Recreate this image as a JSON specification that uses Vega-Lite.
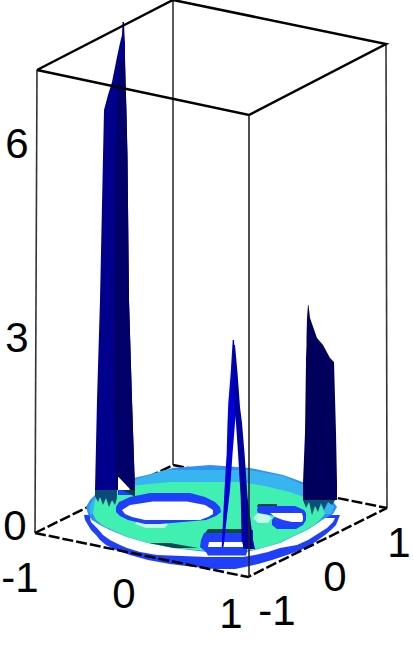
{
"$schema":"https://vega.github.io/schema/vega-lite/v6.json",
"width":414,"height":654,"padding":0,"autosize":{"type":"none"},
"background":"white",
"config":{"view":{"stroke":null}},
"resolve":{"scale":{"color":"independent"}},
"datasets":{
"back":[
{"edge":"a","seq":1,"h":37,"v":70},{"edge":"a","seq":2,"h":35,"v":533},
{"edge":"b","seq":1,"h":173,"v":0},{"edge":"b","seq":2,"h":173,"v":465},
{"edge":"c","seq":1,"h":386,"v":44},{"edge":"c","seq":2,"h":387,"v":508}
],
"floorEdges":[
{"edge":"d","seq":1,"h":35,"v":533},{"edge":"d","seq":2,"h":173,"v":465},{"edge":"d","seq":3,"h":387,"v":508}
],
"topEdges":[
{"edge":"t","seq":1,"h":37,"v":70},{"edge":"t","seq":2,"h":173,"v":0},{"edge":"t","seq":3,"h":386,"v":44},{"edge":"t","seq":4,"h":249,"v":115},{"edge":"t","seq":5,"h":37,"v":70}
],
"frontEdges":[
{"edge":"f","seq":1,"h":35,"v":533},{"edge":"f","seq":2,"h":248,"v":577},{"edge":"f","seq":3,"h":387,"v":508}
],
"frontPost":[
{"edge":"p","seq":1,"h":249,"v":115},{"edge":"p","seq":2,"h":249,"v":577}
],
"floor":[
{"part":"a ring","v":515,"l":84,"r":340},{"part":"a ring","v":520,"l":85,"r":338},{"part":"a ring","v":525,"l":88,"r":336},{"part":"a ring","v":530,"l":91,"r":331},{"part":"a ring","v":535,"l":96,"r":325},{"part":"a ring","v":540,"l":100,"r":318},{"part":"a ring","v":545,"l":106,"r":311},{"part":"a ring","v":550,"l":116,"r":301},{"part":"a ring","v":555,"l":130,"r":287},{"part":"a ring","v":560,"l":148,"r":272},{"part":"a ring","v":564,"l":170,"r":258},{"part":"a ring","v":567,"l":195,"r":245},{"part":"a ring","v":569,"l":215,"r":235},
{"part":"b gap","v":518,"l":90,"r":335},{"part":"b gap","v":522,"l":91,"r":333},{"part":"b gap","v":528,"l":97,"r":327},{"part":"b gap","v":535,"l":103,"r":316},{"part":"b gap","v":540,"l":110,"r":308},{"part":"b gap","v":545,"l":120,"r":297},{"part":"b gap","v":548,"l":127,"r":280},{"part":"b gap","v":552,"l":140,"r":268},{"part":"b gap","v":555,"l":157,"r":255},{"part":"b gap","v":557,"l":207,"r":243},
{"part":"c disk","v":465,"l":210,"r":210},{"part":"c disk","v":468,"l":173,"r":250},{"part":"c disk","v":475,"l":147,"r":283},{"part":"c disk","v":480,"l":125,"r":297},{"part":"c disk","v":485,"l":112,"r":310},{"part":"c disk","v":493,"l":97,"r":325},{"part":"c disk","v":500,"l":90,"r":332},{"part":"c disk","v":507,"l":86,"r":337},{"part":"c disk","v":514,"l":88,"r":333},{"part":"c disk","v":520,"l":92,"r":322},{"part":"c disk","v":525,"l":100,"r":315},{"part":"c disk","v":530,"l":110,"r":307},{"part":"c disk","v":537,"l":127,"r":292},{"part":"c disk","v":543,"l":148,"r":280},{"part":"c disk","v":548,"l":173,"r":262},{"part":"c disk","v":552,"l":207,"r":247},
{"part":"d sky","v":470,"l":165,"r":250},{"part":"d sky","v":476,"l":147,"r":283},{"part":"d sky","v":482,"l":125,"r":297},{"part":"d sky","v":490,"l":105,"r":315},{"part":"d sky","v":498,"l":94,"r":328},{"part":"d sky","v":507,"l":89,"r":334},{"part":"d sky","v":514,"l":90,"r":331},
{"part":"e mint","v":482,"l":170,"r":240},{"part":"e mint","v":486,"l":130,"r":265},{"part":"e mint","v":492,"l":105,"r":290},{"part":"e mint","v":500,"l":95,"r":312},{"part":"e mint","v":507,"l":94,"r":322},{"part":"e mint","v":514,"l":93,"r":325},{"part":"e mint","v":520,"l":96,"r":320},{"part":"e mint","v":525,"l":102,"r":314},{"part":"e mint","v":530,"l":112,"r":306},{"part":"e mint","v":537,"l":128,"r":291},{"part":"e mint","v":543,"l":149,"r":279},{"part":"e mint","v":548,"l":174,"r":261},{"part":"e mint","v":551,"l":207,"r":247},
{"part":"f glow","v":520,"l":138,"r":160},{"part":"f glow","v":524,"l":135,"r":168},{"part":"f glow","v":528,"l":146,"r":165},
{"part":"g glow2","v":513,"l":258,"r":265},{"part":"g glow2","v":518,"l":253,"r":272},{"part":"g glow2","v":523,"l":258,"r":268},
{"part":"h hole blue","v":493,"l":150,"r":190},{"part":"h hole blue","v":497,"l":130,"r":205},{"part":"h hole blue","v":502,"l":119,"r":215},{"part":"h hole blue","v":507,"l":116,"r":220},{"part":"h hole blue","v":512,"l":116,"r":221},{"part":"h hole blue","v":516,"l":120,"r":216},{"part":"h hole blue","v":520,"l":128,"r":206},{"part":"h hole blue","v":524,"l":145,"r":160},
{"part":"i hole white","v":501.5,"l":153,"r":187},{"part":"i hole white","v":505,"l":130,"r":205},{"part":"i hole white","v":510,"l":122,"r":213},{"part":"i hole white","v":514,"l":125,"r":213},{"part":"i hole white","v":517,"l":132,"r":208},{"part":"i hole white","v":520,"l":145,"r":200},
{"part":"j hole2 edge","v":504,"l":258,"r":277},{"part":"j hole2 edge","v":507,"l":257,"r":277},
{"part":"k hole2 blue","v":506,"l":258,"r":295},{"part":"k hole2 blue","v":510,"l":257,"r":304},{"part":"k hole2 blue","v":513,"l":258,"r":306},{"part":"k hole2 blue","v":516,"l":275,"r":306},{"part":"k hole2 blue","v":520,"l":272,"r":306},{"part":"k hole2 blue","v":525,"l":272,"r":303},{"part":"k hole2 blue","v":529,"l":277,"r":296},
{"part":"l hole2 white","v":513,"l":270,"r":302},{"part":"l hole2 white","v":517,"l":275,"r":303},{"part":"l hole2 white","v":520,"l":283,"r":303},{"part":"l hole2 white","v":522,"l":292,"r":302},
{"part":"m hole3 edge","v":529,"l":208,"r":244},{"part":"m hole3 edge","v":533,"l":205,"r":245},
{"part":"n hole3 blue","v":533,"l":204,"r":245},{"part":"n hole3 blue","v":540,"l":201,"r":246},{"part":"n hole3 blue","v":547,"l":200,"r":247},{"part":"n hole3 blue","v":552,"l":206,"r":247},{"part":"n hole3 blue","v":555.5,"l":208,"r":246},
{"part":"o hole3 white","v":542,"l":209,"r":244},{"part":"o hole3 white","v":547,"l":208,"r":244},
{"part":"p dark rim","v":543,"l":149,"r":170},{"part":"p dark rim","v":548,"l":174,"r":198},
{"part":"q notch blue","v":489,"l":118,"r":128},{"part":"q notch blue","v":495,"l":118,"r":132}
],
"jags":[
{"part":"a teal","h":95,"v":488,"w":496},{"part":"a teal","h":98,"v":488,"w":502},{"part":"a teal","h":100,"v":488,"w":497},{"part":"a teal","h":103,"v":488,"w":505},{"part":"a teal","h":106,"v":488,"w":498},{"part":"a teal","h":109,"v":488,"w":507},{"part":"a teal","h":112,"v":488,"w":500},{"part":"a teal","h":115,"v":488,"w":505},{"part":"a teal","h":117,"v":488,"w":498},
{"part":"b teal","h":119,"v":486,"w":488},{"part":"b teal","h":124,"v":486,"w":491},{"part":"b teal","h":130,"v":486,"w":494},{"part":"b teal","h":135,"v":486,"w":497},
{"part":"c teal","h":303,"v":488,"w":500},{"part":"c teal","h":306,"v":488,"w":508},{"part":"c teal","h":309,"v":488,"w":502},{"part":"c teal","h":312,"v":488,"w":515},{"part":"c teal","h":315,"v":488,"w":506},{"part":"c teal","h":318,"v":488,"w":512},{"part":"c teal","h":321,"v":488,"w":503},{"part":"c teal","h":324,"v":488,"w":510},{"part":"c teal","h":328,"v":488,"w":502},{"part":"c teal","h":332,"v":488,"w":505},{"part":"c teal","h":337,"v":488,"w":497},
{"part":"e tealdark","h":243,"v":530,"w":549},{"part":"e tealdark","h":248,"v":530,"w":545},{"part":"e tealdark","h":253,"v":530,"w":549}
],
"spikes":[
{"part":"left","v":22,"l":122.5,"r":124},{"part":"left","v":35,"l":122,"r":124.5},{"part":"left","v":43,"l":120,"r":125},{"part":"left","v":57,"l":117,"r":125},{"part":"left","v":82,"l":112,"r":125.5},{"part":"left","v":95,"l":108,"r":126},{"part":"left","v":110,"l":104,"r":126.5},{"part":"left","v":157,"l":103,"r":127.5},{"part":"left","v":300,"l":100,"r":129},{"part":"left","v":400,"l":97,"r":132},{"part":"left","v":490,"l":95,"r":135},
{"part":"left dark","v":60,"l":119,"r":125},{"part":"left dark","v":157,"l":115,"r":127.5},{"part":"left dark","v":300,"l":114,"r":129},{"part":"left dark","v":400,"l":114,"r":132},{"part":"left dark","v":490,"l":116,"r":135},
{"part":"notch","v":477,"l":118,"r":118.5},{"part":"notch","v":488,"l":118,"r":129},{"part":"notch","v":490,"l":118,"r":130},
{"part":"right","v":305,"l":308,"r":308.5},{"part":"right","v":318,"l":307,"r":310},{"part":"right","v":338,"l":306.5,"r":317},{"part":"right","v":345,"l":306.5,"r":323},{"part":"right","v":358,"l":306,"r":330},{"part":"right","v":362,"l":306,"r":334},{"part":"right","v":433,"l":305,"r":336},{"part":"right","v":483,"l":303,"r":337},{"part":"right","v":500,"l":303,"r":337},
{"part":"mid left","v":340,"l":232.7,"r":234},{"part":"mid left","v":373,"l":230.7,"r":236},{"part":"mid left","v":403,"l":228.3,"r":236},{"part":"mid left","v":423,"l":227.5,"r":235},{"part":"mid left","v":453,"l":226.7,"r":232.6},{"part":"mid left","v":490,"l":224.5,"r":230},{"part":"mid left","v":547,"l":221.7,"r":223.5},
{"part":"mid right","v":345,"l":233,"r":235},{"part":"mid right","v":373,"l":233,"r":237.5},{"part":"mid right","v":407,"l":234,"r":240},{"part":"mid right","v":423,"l":236,"r":242},{"part":"mid right","v":453,"l":238,"r":244.5},{"part":"mid right","v":497,"l":240.7,"r":247.5},{"part":"mid right","v":540,"l":241.7,"r":253},{"part":"mid right","v":549,"l":244,"r":255}
],
"labels":[
{"t":"6","h":17,"v":145},{"t":"3","h":17,"v":339},{"t":"0","h":15,"v":527},
{"t":"-1","h":20,"v":579},{"t":"0","h":124,"v":595},{"t":"1","h":231,"v":615},
{"t":"-1","h":277,"v":612},{"t":"0","h":335,"v":578},{"t":"1","h":399,"v":544}
]
},
"layer":[
{"data":{"name":"back"},"mark":{"type":"line","color":"#333333","strokeWidth":1.6},
 "encoding":{"x":{"field":"h","type":"quantitative","scale":{"domain":[0,414]},"axis":null},"y":{"field":"v","type":"quantitative","scale":{"domain":[654,0]},"axis":null},"detail":{"field":"edge"},"order":{"field":"seq"}}},
{"data":{"name":"floorEdges"},"mark":{"type":"line","color":"#000000","strokeWidth":2.5,"strokeDash":[11,3]},
 "encoding":{"x":{"field":"h","type":"quantitative","scale":{"domain":[0,414]},"axis":null},"y":{"field":"v","type":"quantitative","scale":{"domain":[654,0]},"axis":null},"detail":{"field":"edge"},"order":{"field":"seq"}}},
{"data":{"name":"floor"},"mark":{"type":"area","orient":"horizontal"},
 "encoding":{"y":{"field":"v","type":"quantitative","scale":{"domain":[654,0]},"axis":null},"x":{"field":"l","type":"quantitative","scale":{"domain":[0,414]},"axis":null},"x2":{"field":"r"},
 "color":{"field":"part","type":"nominal","legend":null,"scale":{"domain":["a ring","b gap","c disk","d sky","e mint","f glow","g glow2","h hole blue","i hole white","j hole2 edge","k hole2 blue","l hole2 white","m hole3 edge","n hole3 blue","o hole3 white","p dark rim","q notch blue"],"range":["#1f3ffa","#ffffff","#2f8ff5","#38b4f0","#40f0b0","#c4fbe8","#c4fbe8","#1f3ffa","#ffffff","#0d4a40","#1f3ffa","#ffffff","#0d4a40","#1f3ffa","#ffffff","#0d4a50","#1f3ffa"]}}}},
{"data":{"name":"jags"},"mark":{"type":"area","orient":"vertical"},
 "encoding":{"x":{"field":"h","type":"quantitative","scale":{"domain":[0,414]},"axis":null},"y":{"field":"v","type":"quantitative","scale":{"domain":[654,0]},"axis":null},"y2":{"field":"w"},
 "color":{"field":"part","type":"nominal","legend":null,"scale":{"domain":["a teal","b teal","c teal","e tealdark"],"range":["#0b4a78","#063a50","#0b5078","#0a3a70"]}}}},
{"data":{"name":"spikes"},"mark":{"type":"area","orient":"horizontal"},
 "encoding":{"y":{"field":"v","type":"quantitative","scale":{"domain":[654,0]},"axis":null},"x":{"field":"l","type":"quantitative","scale":{"domain":[0,414]},"axis":null},"x2":{"field":"r"},
 "color":{"field":"part","type":"nominal","legend":null,"scale":{"domain":["left","left dark","notch","right","mid left","mid right"],"range":["#00008c","#000068","#ffffff","#00005c","#0000d8","#0000a0"]}}}},
{"data":{"name":"topEdges"},"mark":{"type":"line","color":"#000000","strokeWidth":2.5},
 "encoding":{"x":{"field":"h","type":"quantitative","scale":{"domain":[0,414]},"axis":null},"y":{"field":"v","type":"quantitative","scale":{"domain":[654,0]},"axis":null},"detail":{"field":"edge"},"order":{"field":"seq"}}},
{"data":{"name":"frontEdges"},"mark":{"type":"line","color":"#000000","strokeWidth":2.5,"strokeDash":[11,3]},
 "encoding":{"x":{"field":"h","type":"quantitative","scale":{"domain":[0,414]},"axis":null},"y":{"field":"v","type":"quantitative","scale":{"domain":[654,0]},"axis":null},"detail":{"field":"edge"},"order":{"field":"seq"}}},
{"data":{"name":"frontPost"},"mark":{"type":"line","color":"#222222","strokeWidth":1.6},
 "encoding":{"x":{"field":"h","type":"quantitative","scale":{"domain":[0,414]},"axis":null},"y":{"field":"v","type":"quantitative","scale":{"domain":[654,0]},"axis":null},"detail":{"field":"edge"},"order":{"field":"seq"}}},
{"data":{"name":"labels"},"mark":{"type":"text","font":"Liberation Sans","fontSize":42,"align":"center","baseline":"middle","color":"#000000"},
 "encoding":{"x":{"field":"h","type":"quantitative","scale":{"domain":[0,414]},"axis":null},"y":{"field":"v","type":"quantitative","scale":{"domain":[654,0]},"axis":null},"text":{"field":"t"}}}
]
}
